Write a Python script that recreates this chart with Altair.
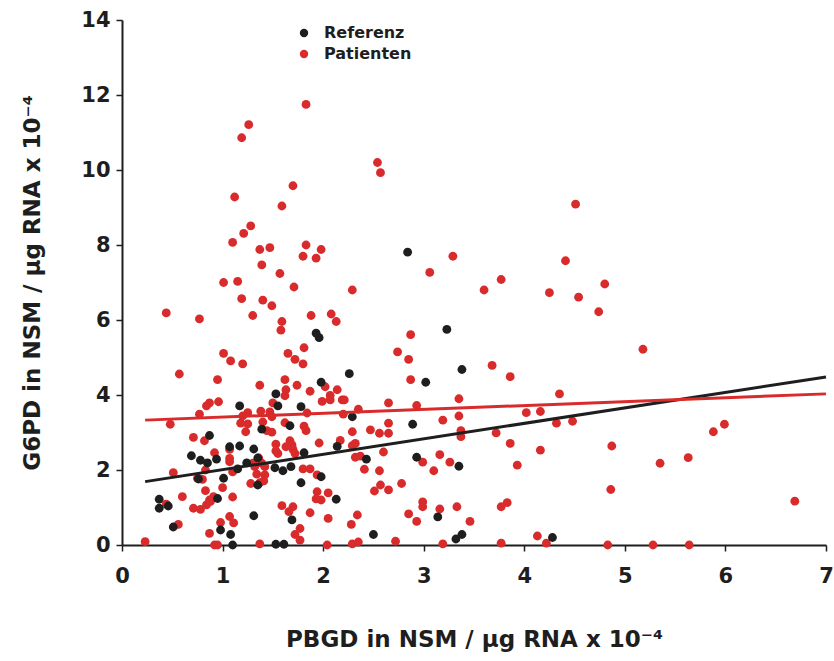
import altair as alt
import pandas as pd

# Referenz (black) points
ref_x = [1.93, 1.96, 2.26, 1.98, 1.53, 1.17, 1.55, 1.78, 2.29, 1.67, 1.39, 0.87, 2.14, 1.07, 1.17,
         1.31, 1.81, 0.69, 0.94, 0.78, 0.85, 1.35, 1.24, 1.15, 1.52, 1.60, 1.68, 1.01, 1.35, 1.78,
         1.98, 0.95, 0.37, 0.37, 0.46, 2.13, 1.31, 1.69, 0.51, 0.98, 1.08, 1.10, 1.53, 1.61, 0.76,
         2.84, 3.23, 3.38, 3.02, 2.43, 2.89, 2.93, 3.35, 3.14, 2.50, 3.32, 3.38, 4.28]
ref_y = [5.65, 5.53, 4.57, 4.34, 4.03, 3.71, 3.71, 3.69, 3.42, 3.18, 3.09, 2.92, 2.63, 2.62, 2.64,
         2.56, 2.46, 2.38, 2.29, 2.26, 2.19, 2.32, 2.19, 2.03, 2.06, 1.98, 2.09, 1.78, 1.60, 1.66,
         1.82, 1.24, 1.22, 0.98, 1.04, 1.22, 0.78, 0.67, 0.48, 0.40, 0.28, 0.00, 0.02, 0.02, 1.76,
         7.81, 5.75, 4.68, 4.34, 2.29, 3.22, 2.34, 2.10, 0.75, 0.28, 0.16, 0.28, 0.20]

# Patienten (red) points
pat_x = [1.83, 1.26, 1.19, 1.70, 1.12, 1.59, 1.28, 1.21, 1.10, 1.37, 1.47, 1.83, 1.98, 1.80, 1.93, 1.39, 1.57,
         1.01, 1.15, 1.71, 2.29, 1.19, 1.40, 1.49, 0.44, 1.30, 1.88, 2.08, 0.77, 2.13, 1.59, 1.58, 1.81,
         1.01, 1.65, 1.08, 1.72, 1.20, 1.80, 0.57, 0.95, 1.62, 1.37, 1.74, 2.02, 1.63, 2.14, 1.87, 1.62,
         2.07, 0.87, 0.96, 0.84, 1.99, 2.07, 2.19, 2.21, 1.50, 2.35, 0.77, 1.25, 1.20, 1.38, 1.47, 1.49,
         1.84, 2.20,
         0.48, 1.18, 1.25, 1.40, 1.62, 1.23, 1.44, 1.49, 1.81, 1.83, 2.29, 0.71, 0.82, 1.53, 1.67, 1.69,
         1.63, 1.96, 2.17, 2.29, 2.32, 1.07, 1.53, 1.55, 1.70, 1.72, 0.92, 1.07, 1.07, 1.36, 2.37, 2.32,
         1.30, 1.32, 1.39, 1.42, 1.10, 1.80, 1.87, 0.83, 0.51, 0.75, 0.80, 1.34, 1.42, 1.28, 1.37, 1.41,
         1.94, 1.00, 0.83, 0.60, 0.91, 1.10, 0.87, 0.44, 1.94, 1.93, 1.98, 2.05, 0.71, 0.78, 0.84, 0.88,
         1.59, 1.70, 1.66, 1.87, 2.34, 1.07, 1.11, 0.98, 2.05, 0.56, 2.28, 0.87, 1.77, 1.72, 1.77, 0.23,
         0.92, 0.95, 1.37, 2.04, 2.29, 2.35,
         2.54, 2.57, 4.51, 3.29, 3.06, 4.41, 3.60, 3.77, 4.25, 4.54,
         2.87, 2.74, 2.85, 2.87, 3.68, 3.86, 4.35, 2.65, 2.93, 3.35, 3.19, 3.35, 4.02, 4.16, 4.32, 4.48,
         2.65, 2.47, 2.56, 2.65, 3.37, 3.37, 3.72, 3.86, 2.60, 2.41, 2.99, 3.16, 3.26, 3.10, 3.93, 4.16,
         2.56, 2.57, 2.65, 2.51, 2.78, 2.99, 2.99, 3.16, 3.33, 3.83, 3.77, 2.85, 2.93, 3.46, 4.13, 4.22,
         2.72, 3.19, 3.77,
         4.80, 4.74, 5.18, 4.87, 5.35, 5.63, 5.88, 5.99, 4.86, 6.69, 4.83, 5.28, 5.64]
pat_y = [11.75, 11.21, 10.86, 9.58, 9.28, 9.04, 8.51, 8.31, 8.07, 7.88, 7.93, 8.00, 7.88, 7.70, 7.65, 7.47, 7.24,
         7.00, 7.03, 6.88, 6.80, 6.57, 6.53, 6.38, 6.19, 6.12, 6.12, 6.16, 6.03, 5.96, 5.96, 5.73, 5.26,
         5.11, 5.11, 4.91, 4.95, 4.83, 4.83, 4.56, 4.41, 4.41, 4.26, 4.26, 4.22, 4.14, 4.14, 4.10, 3.98,
         3.99, 3.79, 3.82, 3.71, 3.83, 3.87, 3.87, 3.87, 3.79, 3.62, 3.49, 3.53, 3.44, 3.57, 3.55, 3.42,
         3.52, 3.49,
         3.22, 3.25, 3.23, 3.28, 3.26, 3.02, 3.05, 3.01, 3.17, 3.05, 3.02, 2.87, 2.78, 2.69, 2.78, 2.67,
         2.62, 2.72, 2.79, 2.65, 2.71, 2.55, 2.51, 2.44, 2.55, 2.44, 2.46, 2.31, 2.22, 2.32, 2.37, 2.34,
         2.18, 2.09, 2.18, 2.09, 1.95, 2.03, 2.03, 2.00, 1.93, 1.78, 1.75, 1.89, 1.87, 1.64, 1.66, 1.71,
         1.87, 1.53, 1.45, 1.29, 1.29, 1.28, 1.20, 1.09, 1.42, 1.23, 1.20, 1.39, 0.98, 0.95, 1.07, 1.16,
         1.05, 1.02, 0.89, 0.86, 0.80, 0.76, 0.59, 0.60, 0.71, 0.55, 0.55, 0.31, 0.44, 0.28, 0.13, 0.09,
         0.00, 0.00, 0.03, 0.00, 0.03, 0.08,
         10.20, 9.93, 9.09, 7.70, 7.27, 7.58, 6.80, 7.08, 6.73, 6.61,
         5.61, 5.15, 4.95, 4.41, 4.79, 4.49, 4.03, 3.79, 3.72, 3.90, 3.33, 3.44, 3.53, 3.56, 3.25, 3.30,
         3.25, 3.07, 2.98, 2.98, 3.05, 2.89, 2.99, 2.71, 2.48, 2.02, 2.21, 2.41, 2.21, 1.98, 2.13, 2.53,
         1.98, 1.60, 1.47, 1.44, 1.64, 1.15, 1.02, 0.96, 1.02, 1.13, 1.02, 0.83, 0.63, 0.63, 0.24, 0.05,
         0.10, 0.03, 0.05,
         6.96, 6.22, 5.22, 2.64, 2.18, 2.33, 3.02, 3.22, 1.48, 1.17, 0.00, 0.00, 0.00]

# Regression lines (endpoints)
line_x = [0.23, 7.0]
ref_line_y = [1.69, 4.48]
pat_line_y = [3.33, 4.03]

groups = ["Referenz", "Patienten"]
colors = ["#1e1e1e", "#d92b2b"]

pts = pd.concat([
    pd.DataFrame({"x": pat_x, "y": pat_y, "g": "Patienten", "o": 0}),
    pd.DataFrame({"x": ref_x, "y": ref_y, "g": "Referenz", "o": 1}),
], ignore_index=True)

lines = pd.concat([
    pd.DataFrame({"x": line_x, "y": ref_line_y, "g": "Referenz"}),
    pd.DataFrame({"x": line_x, "y": pat_line_y, "g": "Patienten"}),
], ignore_index=True)

FONT = "DejaVu Sans"

xs = alt.Scale(domain=[0, 7], nice=False, zero=False)
ys = alt.Scale(domain=[0, 14], nice=False, zero=False)
cs = alt.Scale(domain=groups, range=colors)

points = alt.Chart(pts).mark_circle(size=78, opacity=1).encode(
    x=alt.X("x:Q", scale=xs, axis=alt.Axis(
        title="PBGD in NSM / µg RNA x 10⁻⁴", values=list(range(8)), format="d",
        labelPadding=14, titlePadding=42, labelFlush=False)),
    y=alt.Y("y:Q", scale=ys, axis=alt.Axis(
        title="G6PD in NSM / µg RNA x 10⁻⁴", values=list(range(0, 15, 2)), format="d",
        labelPadding=6, titlePadding=36, labelFlush=False)),
    color=alt.Color("g:N", scale=cs, legend=alt.Legend(
        title=None, orient="none", legendX=174, legendY=5, symbolType="circle",
        symbolSize=70, labelFontSize=16, labelFont=FONT, labelFontWeight="bold",
        labelColor="#1e1e1e", rowPadding=5, labelOffset=12, padding=0, symbolStrokeWidth=0)),
    order=alt.Order("o:Q"),
)

regl = alt.Chart(lines).mark_line(strokeWidth=3).encode(
    x=alt.X("x:Q", scale=xs),
    y=alt.Y("y:Q", scale=ys),
    color=alt.Color("g:N", scale=cs, legend=None),
    detail="g:N",
)

chart = alt.layer(points, regl).properties(
    width=704, height=525,
    autosize=alt.AutoSizeParams(type="none"),
    padding={"left": 122, "top": 20, "right": 8, "bottom": 116},
).configure(background="white").configure_view(stroke=None).configure_axis(
    domainColor="#1e1e1e", domainWidth=2, tickColor="#1e1e1e", tickWidth=1.5, tickSize=6,
    grid=False, labelFont=FONT, labelFontWeight="bold", labelFontSize=21, labelColor="#1e1e1e",
    titleFont=FONT, titleFontWeight="bold", titleFontSize=23, titleColor="#1e1e1e",
)

chart.save("out.html", embed_options={"renderer": "svg", "actions": False})
